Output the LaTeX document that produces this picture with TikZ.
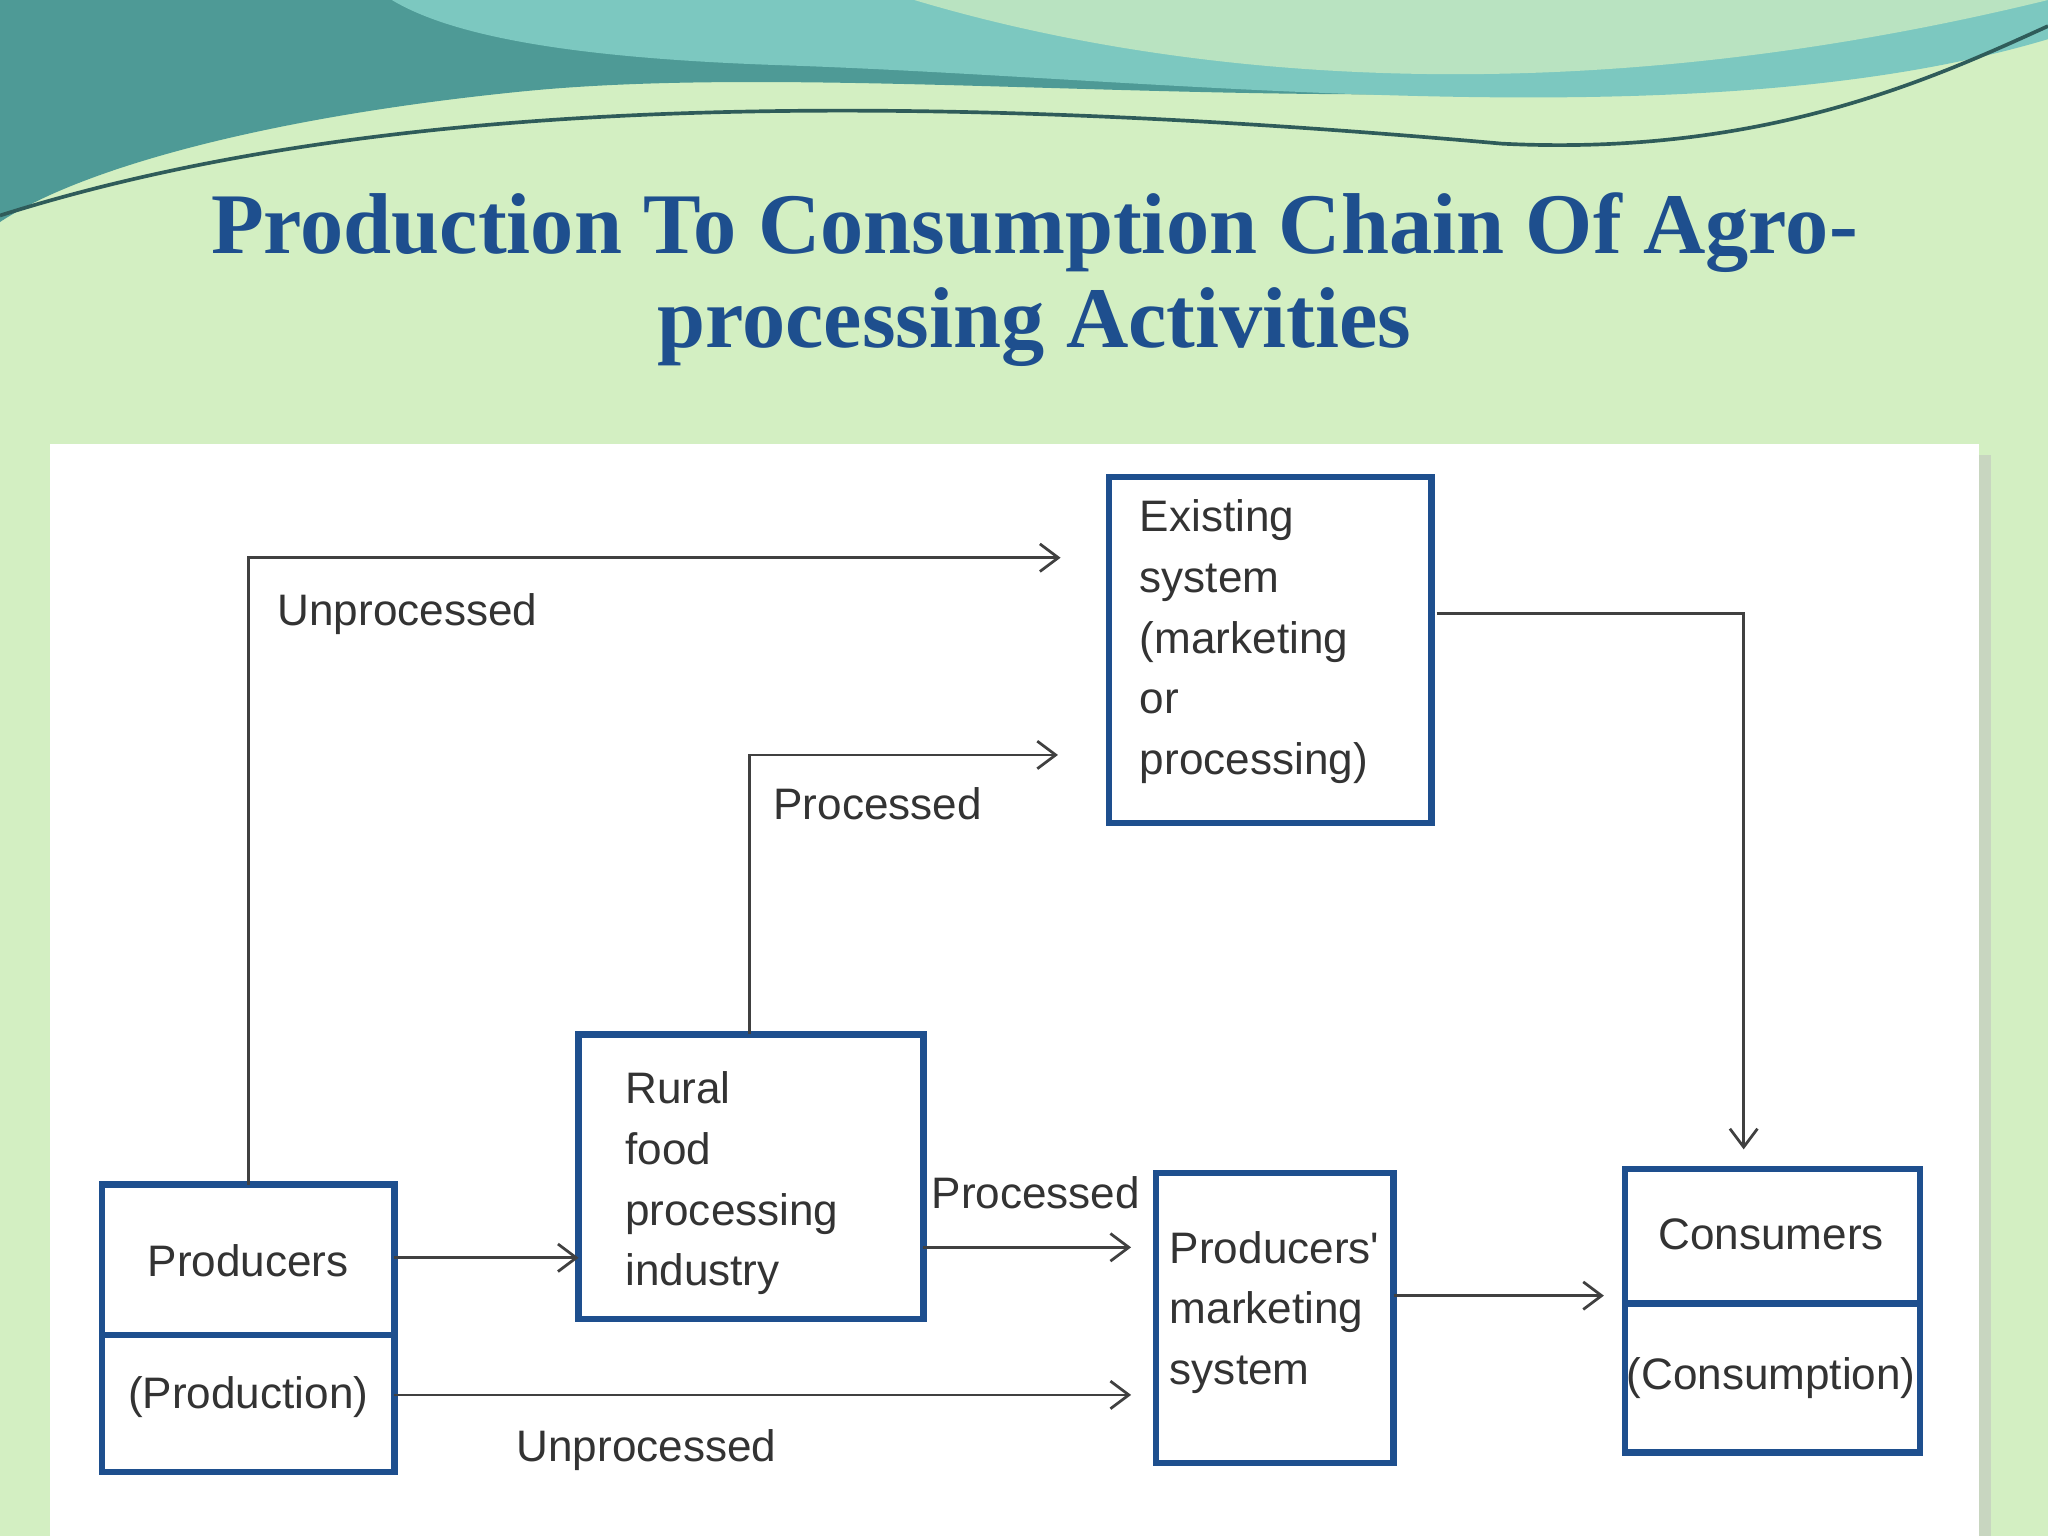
\documentclass[tikz,border=0pt]{standalone}
\usepackage{fontspec}
\setmainfont{Liberation Serif}
\setsansfont{Liberation Sans}
\usetikzlibrary{arrows.meta}
\definecolor{bg}{HTML}{D3EFC2}
\definecolor{tb}{HTML}{1E4F8E}
\definecolor{teal1}{HTML}{7CC8C0}
\definecolor{teal2}{HTML}{4E9A96}
\begin{document}
\begin{tikzpicture}[x=0.01cm,y=-0.01cm,
  bx/.style={draw=tb,line width=1.4pt},
  lab/.style={font=\sffamily\fontsize{9.6}{12}\selectfont,text=black!80},
  txt/.style={font=\sffamily\fontsize{9.6}{13.2}\selectfont,text=black!80,inner sep=0pt},
  arr/.style={draw=black!75,line width=0.6pt,-{Straight Barb[length=4pt,width=6pt]}},
  ln/.style={draw=black!75,line width=0.6pt}]
\useasboundingbox (0,0) rectangle (1568,1176);
\fill[bg] (0,0) rectangle (1568,1176);
% top waves
\fill[teal2] (0,0) -- (1568,0) -- (1568,20) .. controls (1200,120) and (700,40) .. (400,70) .. controls (200,90) and (60,130) .. (0,170) -- cycle;
\fill[teal1] (300,0) -- (1568,0) -- (1568,30) .. controls (1300,110) and (900,60) .. (600,50) .. controls (450,45) and (350,30) .. (300,0) -- cycle;
\fill[bg!70!teal1] (700,0) .. controls (900,60) and (1200,90) .. (1568,0) -- (1568,0) -- cycle;
\draw[teal2!60!black,line width=0.8pt] (0,165) .. controls (300,70) and (700,70) .. (1150,110) .. controls (1350,120) and (1480,60) .. (1568,20);
% title
\node[font=\bfseries\fontsize{18.8}{20.5}\selectfont,text=tb,align=center] (title) at (792,214) {Production To Consumption Chain Of Agro-\\processing Activities};
% panel
\fill[black!25,opacity=0.5] (46,348) rectangle (1524,1176);
\fill[white] (38,340) rectangle (1515,1176);
% boxes
\draw[bx] (78,907) rectangle (302,1127); \draw[bx] (78,1022) -- (302,1022);
\node[txt] (prod) at (190,965) {Producers};
\node[txt] (prodn) at (190,1070) {(Production)};
\coordinate (prodTop) at (190,907);
\draw[bx] (443,792) rectangle (707,1010);
\node[txt,align=left,anchor=north west] (rural) at (478,820) {Rural\\food\\processing\\industry};
\draw[bx] (849,365) rectangle (1096,630);
\node[txt,align=left,anchor=north west] (exist) at (872,382) {Existing\\system\\(marketing\\or\\processing)};
\draw[bx] (885,898) rectangle (1067,1120);
\node[txt,align=left,anchor=north west] (pm) at (895,942) {Producers\textquotesingle\\marketing\\system};
\draw[bx] (1244,895) rectangle (1470,1112); \draw[bx] (1244,998) -- (1470,998);
\node[txt] (cons) at (1356,945) {Consumers};
\node[txt] (consn) at (1356,1055) {(Consumption)};
% arrows
\coordinate (a1) at (190,427); \coordinate (a1e) at (812,427);
\draw[arr] (prodTop) -- (a1) -- (a1e);
\node[lab] (l1) at (312,470) {Unprocessed};
\coordinate (b0) at (574,792); \coordinate (b1) at (574,578); \coordinate (b1e) at (810,578);
\draw[arr] (b0) -- (b1) -- (b1e);
\node[lab] (l2) at (672,615) {Processed};
\coordinate (c0) at (1100,470); \coordinate (c1) at (1335,470); \coordinate (c2) at (1335,880);
\draw[arr] (c0) -- (c1) -- (c2);
\coordinate (d0) at (302,963); \coordinate (d1) at (443,963);
\draw[arr] (d0) -- (d1);
\coordinate (e0) at (707,955); \coordinate (e1) at (866,955);
\draw[arr] (e0) -- (e1);
\node[lab] (l3) at (793,913) {Processed};
\coordinate (f0) at (302,1068); \coordinate (f1) at (866,1068);
\draw[arr] (f0) -- (f1);
\node[lab] (l4) at (495,1110) {Unprocessed};
\coordinate (g0) at (1067,992); \coordinate (g1) at (1228,992);
\draw[arr] (g0) -- (g1);
\end{tikzpicture}
\end{document}
